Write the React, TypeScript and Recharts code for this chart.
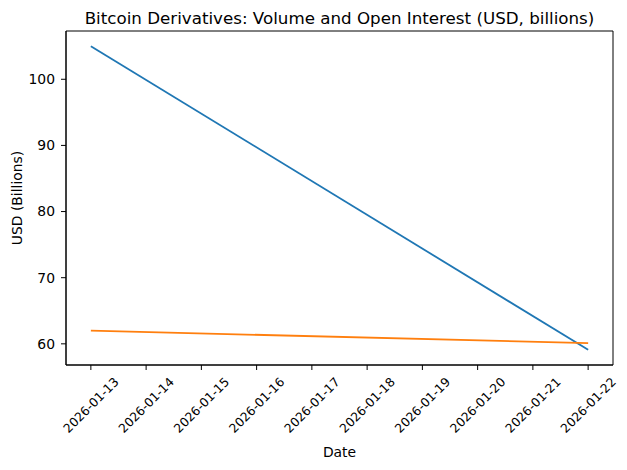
import React from "react";
import {
  LineChart,
  Line,
  XAxis,
  YAxis,
  ReferenceArea,
  Label,
} from "recharts";

const dates = ["2026-01-13", "2026-01-22"];
const volume = [105, 59.1];
const openInterest = [62, 60.1];
const tickDates = [
  "2026-01-13",
  "2026-01-14",
  "2026-01-15",
  "2026-01-16",
  "2026-01-17",
  "2026-01-18",
  "2026-01-19",
  "2026-01-20",
  "2026-01-21",
  "2026-01-22",
];
const yTicks = [60, 70, 80, 90, 100];

const DAY = 86400000;
const base = Date.parse(tickDates[0]);
const toDay = (d: string) => (Date.parse(d) - base) / DAY;

const data = dates.map((d, i) => ({
  day: toDay(d),
  volume: volume[i],
  openInterest: openInterest[i],
}));
const xTicks = tickDates.map(toDay);

const FONT = "DejaVu Sans, sans-serif";

const DateTick = (props: any) => {
  const { x, y, payload } = props;
  const cy = y + 33;
  return (
    <text
      x={x}
      y={cy}
      transform={`rotate(-45, ${x}, ${cy})`}
      textAnchor="middle"
      dominantBaseline="central"
      fontSize={12.4}
      fontFamily={FONT}
      fill="#000"
    >
      {tickDates[Math.round(payload.value)]}
    </text>
  );
};

export default function App() {
  return (
    <div style={{ position: "absolute", left: 0, top: 0, width: 627, height: 470, background: "#fff" }}>
      <div
        style={{
          position: "absolute",
          left: 66,
          width: 547,
          top: 7,
          textAlign: "center",
          fontFamily: FONT,
          fontSize: 16.7,
          lineHeight: "22px",
          color: "#000",
        }}
      >
        Bitcoin Derivatives: Volume and Open Interest (USD, billions)
      </div>
      <LineChart
        width={627}
        height={470}
        data={data}
        margin={{ top: 31, right: 14, bottom: 0, left: 0 }}
      >
        <XAxis
          dataKey="day"
          type="number"
          domain={[-0.45, 9.45]}
          ticks={xTicks}
          interval={0}
          height={105}
          tick={<DateTick />}
          tickSize={5}
          tickLine={{ stroke: "#000" }}
          axisLine={{ stroke: "#000" }}
        >
          <Label
            content={(p: any) => {
              const vb = p.viewBox;
              return (
                <text
                  x={vb.x + vb.width / 2}
                  y={452}
                  textAnchor="middle"
                  dominantBaseline="central"
                  fontSize={13.9}
                  fontFamily={FONT}
                  fill="#000"
                >
                  Date
                </text>
              );
            }}
          />
        </XAxis>
        <YAxis
          type="number"
          domain={[56.8, 107.3]}
          ticks={yTicks}
          width={66}
          tickSize={5}
          tickMargin={6}
          tick={{ fontSize: 13.9, fontFamily: FONT, fill: "#000" }}
          tickLine={{ stroke: "#000" }}
          axisLine={{ stroke: "#000" }}
        >
          <Label
            content={(p: any) => {
              const vb = p.viewBox;
              const cy = vb.y + vb.height / 2;
              return (
                <text
                  x={17}
                  y={cy}
                  transform={`rotate(-90, 17, ${cy})`}
                  textAnchor="middle"
                  dominantBaseline="central"
                  fontSize={13.9}
                  fontFamily={FONT}
                  fill="#000"
                >
                  USD (Billions)
                </text>
              );
            }}
          />
        </YAxis>
        <ReferenceArea
          x1={-0.45}
          x2={9.45}
          y1={56.8}
          y2={107.3}
          fill="none"
          stroke="#000"
          strokeWidth={1}
          fillOpacity={0}
          ifOverflow="visible"
        />
        <Line
          dataKey="volume"
          stroke="#1f77b4"
          strokeWidth={1.8}
          dot={false}
          isAnimationActive={false}
        />
        <Line
          dataKey="openInterest"
          stroke="#ff7f0e"
          strokeWidth={1.8}
          dot={false}
          isAnimationActive={false}
        />
      </LineChart>
    </div>
  );
}
